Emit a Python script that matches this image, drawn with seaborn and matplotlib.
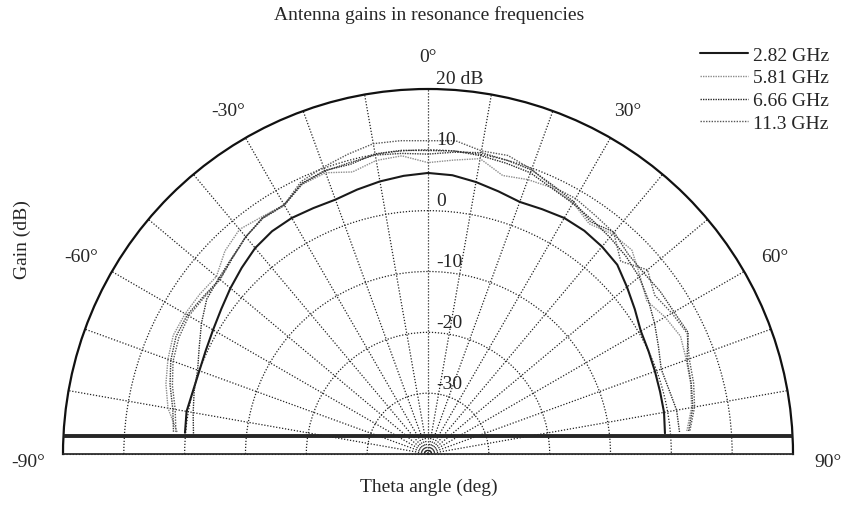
import numpy as np
import matplotlib
matplotlib.use('Agg')
import matplotlib.pyplot as plt
import seaborn as sns

# ── Data ──────────────────────────────────────────────────────────────────────
THETA_DEG = [-85, -80, -75, -70, -65, -60, -55, -50, -45, -40, -35, -30,
             -25, -20, -15, -10, -5, 0, 5, 10, 15, 20, 25, 30,
             35, 40, 45, 50, 55, 60, 65, 70, 75, 80, 85]

GAIN_282 = [0.1, 0.3, 0.0, 0.0, 0.3, 0.8, 1.5, 2.4, 3.3, 4.2, 4.7, 4.8,
            4.6, 4.5, 5.0, 5.5, 5.9, 6.2, 6.0, 5.4, 4.7, 4.1, 4.4, 4.8,
            4.8, 4.5, 4.0, 2.7, 1.5, 0.4, 0.0, -0.3, -0.5, -0.6, -0.9]
GAIN_581 = [1.4, 3.4, 4.6, 5.5, 6.2, 6.1, 5.8, 5.4, 7.2, 8.2, 7.6, 7.3,
            8.9, 9.2, 8.0, 9.0, 9.2, 7.9, 8.5, 9.3, 7.4, 8.0, 8.3, 7.7,
            6.2, 7.2, 7.4, 5.5, 3.9, 5.0, 5.8, 5.2, 4.7, 4.0, 2.7]
GAIN_666 = [-1.3, -0.8, -0.2, 0.3, 1.5, 3.0, 4.4, 4.9, 5.6, 6.6, 7.4, 7.3,
            9.1, 9.6, 9.3, 10.1, 10.1, 9.9, 10.0, 9.8, 9.5, 9.2, 8.2, 7.6,
            7.0, 6.5, 6.0, 5.3, 4.2, 3.0, 1.8, 0.8, 1.0, 1.5, 1.5]
GAIN_113 = [1.6, 2.2, 3.5, 4.6, 5.2, 5.4, 4.9, 4.6, 5.5, 6.6, 7.4, 7.3,
            9.4, 10.2, 11.0, 11.8, 11.7, 11.5, 11.7, 10.6, 10.8, 9.8, 8.5, 8.5,
            7.9, 7.5, 4.8, 7.1, 5.5, 6.3, 7.0, 5.7, 5.2, 4.5, 3.2]
# extra unlabelled trace visible in the figure
GAIN_EXTRA = [2.0, 2.6, 3.9, 5.0, 5.7, 5.7, 5.1, 4.7, 5.5, 6.6, 7.3, 7.2,
              9.0, 9.5, 9.6, 9.9, 9.6, 9.3, 9.8, 10.3, 10.0, 9.7, 8.7, 7.9,
              6.6, 7.6, 6.5, 6.3, 6.6, 6.7, 7.2, 5.3, 4.8, 4.2, 3.0]

LABELS = ['2.82 GHz', '5.81 GHz', '6.66 GHz', '11.3 GHz']
RING_TICKS = [-30, -20, -10, 0, 10]
RING_TEXT = ['-30', '-20', '-10', '0', '10', '20 dB']
ANGLE_TICKS = [-90, -60, -30, 0, 30, 60, 90]

R_MIN, R_MAX = -40, 20
BASE_OFFSET = 2.95      # height of the heavy base line above the centre (dB units)

# ── Style ─────────────────────────────────────────────────────────────────────
sns.set_theme(style='white')
plt.rcParams['font.family'] = ['Liberation Serif', 'DejaVu Serif']
plt.rcParams['font.size'] = 14

W, H = 846, 506
CX, CY, RAD = 428, 455, 365     # centre (px from top-left) and outer radius
GRID_KW = dict(color='#222222', lw=0.9, linestyle=(0, (1, 1.4)))

fig = plt.figure(figsize=(W / 100, H / 100), dpi=100)
# the polar wedge sits in a square box; the half disc fills its middle band
side = 2 * RAD
ax = fig.add_axes([(CX - RAD) / W, (H - CY - side / 4) / H, side / W, side / H],
                  projection='polar')
ax.set_theta_zero_location('N')
ax.set_theta_direction(-1)
ax.set_thetamin(-90)
ax.set_thetamax(90)
ax.set_ylim(R_MIN, R_MAX)

# spokes every 10 deg; the two at +-90 are drawn by hand below (unclipped)
ax.set_xticks(np.deg2rad(np.arange(-80, 81, 10)))
ax.set_xticklabels([])
ax.set_yticks(RING_TICKS)
ax.set_yticklabels([])
ax.tick_params(length=0)
ax.grid(True, **GRID_KW)
for side_deg in (-90, 90):
    ax.plot([np.deg2rad(side_deg)] * 2, [R_MIN, R_MAX], clip_on=False,
            zorder=2, color='#333333', lw=0.8, linestyle=(0, (1, 1.8)))

ax.spines['polar'].set(color='#111111', lw=1.6)
for s in ('start', 'end', 'inner'):
    ax.spines[s].set_visible(False)

# ── Curves ────────────────────────────────────────────────────────────────────
th = np.deg2rad(THETA_DEG)
styles = [
    (GAIN_282, LABELS[0], '#1a1a1a', '-', 1.5),
    (GAIN_581, LABELS[1], '#8c8c8c', (0, (1, 0.8)), 1.0),
    (GAIN_666, LABELS[2], '#2b2b2b', (0, (1, 0.8)), 1.0),
    (GAIN_113, LABELS[3], '#555555', (0, (1, 1.0)), 1.0),
    (GAIN_EXTRA, '_extra', '#3a3a3a', (0, (1, 0.8)), 1.0),
]
for vals, lab, col, ls, lw in styles:
    sns.lineplot(x=th, y=vals, ax=ax, color=col, linestyle=ls, lw=lw,
                 label=lab, legend=False, zorder=3)

# heavy base line across the lower edge
a = np.arccos(BASE_OFFSET / (R_MAX - R_MIN))
ax.plot([-a, a], [R_MAX, R_MAX], color='#262626', lw=2.8, zorder=4,
        solid_capstyle='butt', label='_base')

ax.set_xlabel('')
ax.set_ylabel('')

# ── Labels ────────────────────────────────────────────────────────────────────
for deg in ANGLE_TICKS:
    dy = -8 if abs(deg) == 90 else -3
    ax.annotate(f'{deg}°', xy=(np.deg2rad(deg), 25.8), xytext=(0, dy),
                textcoords='offset pixels', ha='center', va='center',
                fontsize=14, annotation_clip=False)

for v, txt in zip(RING_TICKS + [R_MAX], RING_TEXT):
    ax.annotate(txt, xy=(0, v), xytext=(8, 10), textcoords='offset pixels',
                ha='left', va='center', fontsize=14, annotation_clip=False,
                zorder=5)

handles = [h for h in ax.get_lines() if h.get_label() in LABELS]
fig.legend(handles, LABELS, loc='upper left',
           bbox_to_anchor=(700 / W, 1 - 47 / H), frameon=False,
           borderaxespad=0, borderpad=0, handlelength=2.45,
           handletextpad=0.3, labelspacing=0.27, fontsize=14)

fig.text(429 / W, 1 - 15 / H, 'Antenna gains in resonance frequencies',
         ha='center', va='center', fontsize=14)
fig.text(429 / W, 1 - 487 / H, 'Theta angle (deg)',
         ha='center', va='center', fontsize=14)
fig.text(22 / W, 1 - 240 / H, 'Gain (dB)', rotation=90,
         ha='center', va='center', fontsize=14)

fig.savefig('out.png', dpi=100)
